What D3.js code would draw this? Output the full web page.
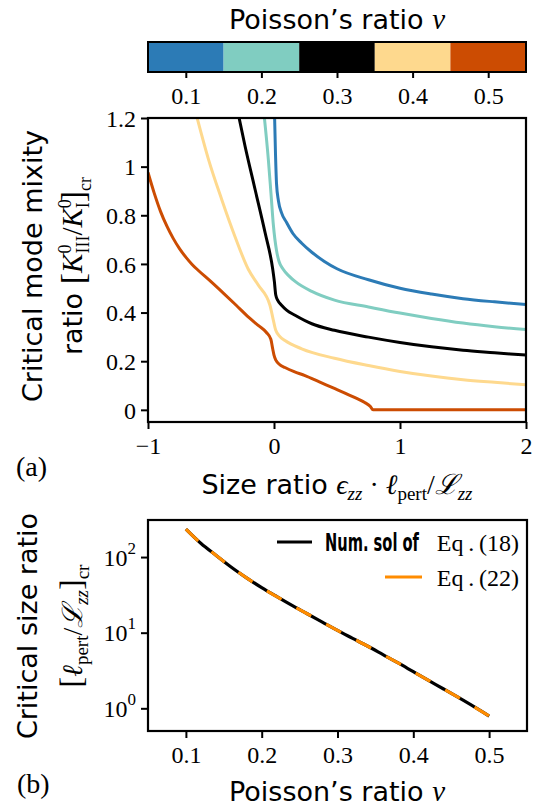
<!DOCTYPE html>
<html><head><meta charset="utf-8">
<script src="https://cdn.jsdelivr.net/npm/d3@7"></script>
<style>
body{margin:0;background:#fff;}
svg{display:block;}
</style></head>
<body>
<svg id="chart" width="545" height="811"></svg>
<script>
// ---------- data ----------
const nuValues = [0.1, 0.2, 0.3, 0.4, 0.5];
const nuColors = ["#2c7bb6", "#80cdc1", "#000000", "#fed98e", "#cc4c02"];
const colorbarTicks = ["0.1", "0.2", "0.3", "0.4", "0.5"];

const curveX_nu01 = [0.004, 0.012, 0.02, 0.035, 0.06, 0.1, 0.15, 0.22, 0.3, 0.4, 0.5, 0.75, 1.0, 1.25, 1.5, 1.75, 2.0];
const curveY_nu01 = [1.22, 1.05, 0.93, 0.86, 0.81, 0.77, 0.725, 0.685, 0.648, 0.61, 0.58, 0.535, 0.5, 0.476, 0.457, 0.444, 0.433];

const curveX_nu02 = [-0.08, -0.045, -0.024, -0.005, 0.02, 0.04, 0.07, 0.12, 0.17, 0.3, 0.48, 0.75, 1.0, 1.25, 1.5, 1.75, 2.0];
const curveY_nu02 = [1.22, 1.03, 0.89, 0.76, 0.655, 0.61, 0.58, 0.55, 0.527, 0.487, 0.451, 0.423, 0.398, 0.376, 0.357, 0.342, 0.33];

const curveX_nu03 = [-0.285, -0.23, -0.15, -0.07, -0.01, 0.003, 0.014, 0.03, 0.06, 0.1, 0.167, 0.3, 0.48, 0.75, 1.0, 1.25, 1.5, 1.75, 2.0];
const curveY_nu03 = [1.22, 1.085, 0.906, 0.727, 0.578, 0.527, 0.472, 0.45, 0.43, 0.41, 0.389, 0.354, 0.327, 0.299, 0.277, 0.259, 0.245, 0.235, 0.225];

const curveX_nu04 = [-0.62, -0.52, -0.415, -0.31, -0.204, -0.125, -0.032, -0.005, 0.014, 0.05, 0.087, 0.22, 0.48, 0.75, 1.0, 1.25, 1.5, 1.75, 2.0];
const curveY_nu04 = [1.22, 1.03, 0.865, 0.713, 0.578, 0.513, 0.43, 0.368, 0.327, 0.3, 0.285, 0.251, 0.212, 0.182, 0.158, 0.139, 0.124, 0.113, 0.103];

const curveX_nu05 = [-1.0, -0.95, -0.9, -0.85, -0.8, -0.75, -0.7, -0.65, -0.6, -0.5, -0.4, -0.3, -0.2, -0.12, -0.06, -0.025, -0.01, 0.0, 0.016, 0.045, 0.087, 0.16, 0.246, 0.36, 0.484, 0.643, 0.72, 0.765, 0.786, 1.0, 1.5, 2.0];
const curveY_nu05 = [0.976, 0.89, 0.815, 0.755, 0.705, 0.663, 0.628, 0.598, 0.573, 0.527, 0.479, 0.43, 0.38, 0.345, 0.318, 0.29, 0.25, 0.225, 0.203, 0.186, 0.174, 0.157, 0.141, 0.115, 0.087, 0.05, 0.03, 0.014, 0.0, 0.0, 0.0, 0.0];

const topXTicks = [-1, 0, 1, 2];
const topXTickLabels = ["\u22121", "0", "1", "2"];
const topYTicks = [0, 0.2, 0.4, 0.6, 0.8, 1.0, 1.2];
const topYTickLabels = ["0", "0.2", "0.4", "0.6", "0.8", "1", "1.2"];

const sizeNu = [0.10, 0.12, 0.14, 0.16, 0.18, 0.20, 0.22, 0.24, 0.26, 0.28, 0.30, 0.32, 0.34, 0.36, 0.38, 0.40, 0.42, 0.44, 0.46, 0.48, 0.50];
const sizeRatio = [234, 151, 105, 73.3, 53.1, 39.4, 29.9, 22.9, 17.8, 13.8, 10.7, 8.41, 6.61, 5.13, 3.98, 3.05, 2.34, 1.80, 1.38, 1.05, 0.79];
const bottomXTicks = [0.1, 0.2, 0.3, 0.4, 0.5];
const bottomXTickLabels = ["0.1", "0.2", "0.3", "0.4", "0.5"];
const bottomYTicks = [1, 10, 100];
const bottomYTickExp = ["0", "1", "2"];

// ---------- setup ----------
const svg = d3.select("#chart");
const SANS = "'DejaVu Sans', sans-serif";
const SERIF = "'Liberation Serif', serif";
const TICKFS = 24;

function styleAxis(g) {
  g.select(".domain").remove();
  g.selectAll(".tick line").attr("stroke", "#000").attr("stroke-width", 2);
  g.selectAll(".tick text").attr("font-family", SERIF).attr("font-size", TICKFS).attr("fill", "#000");
}

// ---------- colorbar ----------
const cbX = d3.scaleLinear().domain([0.05, 0.55]).range([148, 526]);
const cbTop = 42, cbBot = 72;
svg.append("text").attr("x", 337).attr("y", 29).attr("text-anchor", "middle")
  .attr("font-family", SANS).attr("font-size", 27)
  .call(t => { t.append("tspan").text("Poisson\u2019s ratio "); t.append("tspan").attr("font-family", SERIF).attr("font-style", "italic").attr("font-size", 29).text("\u03bd"); });
svg.append("g").selectAll("rect").data(nuValues).join("rect")
  .attr("x", d => cbX(d - 0.05)).attr("width", d => cbX(d + 0.05) - cbX(d - 0.05))
  .attr("y", cbTop).attr("height", cbBot - cbTop)
  .attr("fill", (d, i) => nuColors[i]);
svg.append("rect").attr("x", 148).attr("y", cbTop).attr("width", 378).attr("height", cbBot - cbTop)
  .attr("fill", "none").attr("stroke", "#000").attr("stroke-width", 2);
const cbAxis = d3.axisBottom(cbX).tickValues(nuValues).tickFormat((d, i) => colorbarTicks[i]).tickSize(6).tickPadding(9);
const cbG = svg.append("g").attr("transform", `translate(0,${cbBot})`).call(cbAxis);
styleAxis(cbG);

// ---------- top plot ----------
const xA = d3.scaleLinear().domain([-1, 2]).range([148, 526]);
const yA = d3.scaleLinear().domain([-0.05, 1.2]).range([422, 118]);

svg.append("defs").append("clipPath").attr("id", "clipA")
  .append("rect").attr("x", 148).attr("y", 118).attr("width", 378).attr("height", 304);

const topCurves = [
  [curveX_nu01, curveY_nu01], [curveX_nu02, curveY_nu02], [curveX_nu03, curveY_nu03],
  [curveX_nu04, curveY_nu04], [curveX_nu05, curveY_nu05]
];
const lineA = d3.line().x(d => xA(d[0])).y(d => yA(d[1])).curve(d3.curveMonotoneX);
const gA = svg.append("g").attr("clip-path", "url(#clipA)");
topCurves.forEach((c, i) => {
  const pts = c[0].map((x, j) => [x, c[1][j]]);
  gA.append("path").attr("d", lineA(pts)).attr("fill", "none")
    .attr("stroke", nuColors[i]).attr("stroke-width", 3).attr("stroke-linejoin", "round");
});

const axAx = svg.append("g").attr("transform", "translate(0,422)")
  .call(d3.axisBottom(xA).tickValues(topXTicks).tickFormat((d, i) => topXTickLabels[i]).tickSize(7).tickPadding(8));
styleAxis(axAx);
const axAy = svg.append("g").attr("transform", "translate(148,0)")
  .call(d3.axisLeft(yA).tickValues(topYTicks).tickFormat((d, i) => topYTickLabels[i]).tickSize(7).tickPadding(5));
styleAxis(axAy);
axAy.selectAll(".tick text").attr("dy", "0.34em");
svg.append("rect").attr("x", 148).attr("y", 118).attr("width", 378).attr("height", 304)
  .attr("fill", "none").attr("stroke", "#000").attr("stroke-width", 2.2);

// top y label
const ylA = svg.append("g").attr("transform", "translate(0,266) rotate(-90)");
ylA.append("text").attr("x", 0).attr("y", 42).attr("text-anchor", "middle")
  .attr("font-family", SANS).attr("font-size", 27).text("Critical mode mixity");
const ylA2 = ylA.append("text").attr("x", 0).attr("y", 82).attr("text-anchor", "middle")
  .attr("font-family", SANS).attr("font-size", 27);
ylA2.append("tspan").text("ratio ");
ylA2.append("tspan").attr("font-family", SERIF).attr("font-size", 34).attr("dy", 2).text("[");
ylA2.append("tspan").attr("font-family", SERIF).attr("font-style", "italic").attr("font-size", 29).attr("dy", -2).text("K");
ylA2.append("tspan").attr("font-family", SERIF).attr("font-size", 18).attr("dy", -11).text("0");
ylA2.append("tspan").attr("font-family", SERIF).attr("font-size", 18).attr("dx", -9).attr("dy", 18).text("III");
ylA2.append("tspan").attr("font-family", SERIF).attr("font-size", 29).attr("dy", -7).text("/");
ylA2.append("tspan").attr("font-family", SERIF).attr("font-style", "italic").attr("font-size", 29).text("K");
ylA2.append("tspan").attr("font-family", SERIF).attr("font-size", 18).attr("dy", -11).text("0");
ylA2.append("tspan").attr("font-family", SERIF).attr("font-size", 18).attr("dx", -9).attr("dy", 18).text("I");
ylA2.append("tspan").attr("font-family", SERIF).attr("font-size", 34).attr("dy", -5).text("]");
ylA2.append("tspan").attr("font-family", SERIF).attr("font-size", 18).attr("dy", 7).text("cr");

// top x label
const xlA = svg.append("text").attr("x", 337).attr("y", 494).attr("text-anchor", "middle")
  .attr("font-family", SANS).attr("font-size", 27);
xlA.append("tspan").text("Size ratio ");
xlA.append("tspan").attr("font-family", SERIF).attr("font-style", "italic").attr("font-size", 28).text("\u03f5");
xlA.append("tspan").attr("font-family", SERIF).attr("font-style", "italic").attr("font-size", 19).attr("dy", 6).text("zz");
xlA.append("tspan").attr("font-family", SERIF).attr("font-size", 28).attr("dy", -6).text(" \u00b7 ");
xlA.append("tspan").attr("font-family", SERIF).attr("font-style", "italic").attr("font-size", 28).text("\u2113");
xlA.append("tspan").attr("font-family", SERIF).attr("font-size", 19).attr("dy", 6).text("pert");
xlA.append("tspan").attr("font-family", SERIF).attr("font-size", 28).attr("dy", -6).text("/");
xlA.append("tspan").attr("font-family", SERIF).attr("font-style", "italic").attr("font-size", 28).text("\u2112");
xlA.append("tspan").attr("font-family", SERIF).attr("font-style", "italic").attr("font-size", 19).attr("dy", 6).text("zz");

svg.append("text").attr("x", 16).attr("y", 476).attr("font-family", SERIF).attr("font-size", 28).text("(a)");

// ---------- bottom plot ----------
const xB = d3.scaleLinear().domain([0.05, 0.55]).range([148, 527]);
const yB = d3.scaleLog().domain([Math.pow(10, -0.3), Math.pow(10, 2.49)]).range([731, 520]);
const lineB = d3.line().x(d => xB(d[0])).y(d => yB(d[1])).curve(d3.curveMonotoneX);
const ptsB = sizeNu.map((x, j) => [x, sizeRatio[j]]);
svg.append("path").attr("d", lineB(ptsB)).attr("fill", "none").attr("stroke", "#000").attr("stroke-width", 3.2);
svg.append("path").attr("d", lineB(ptsB)).attr("fill", "none").attr("stroke", "#ff8c00").attr("stroke-width", 3.2)
  .attr("stroke-dasharray", "17,17");

const axBx = svg.append("g").attr("transform", "translate(0,731)")
  .call(d3.axisBottom(xB).tickValues(bottomXTicks).tickFormat((d, i) => bottomXTickLabels[i]).tickSize(7).tickPadding(8));
styleAxis(axBx);
const axBy = svg.append("g").attr("transform", "translate(148,0)")
  .call(d3.axisLeft(yB).tickValues(bottomYTicks).tickFormat(() => "").tickSize(7).tickPadding(5));
styleAxis(axBy);
axBy.selectAll(".tick text").each(function (d, i) {
  const t = d3.select(this).attr("dy", "0.34em");
  t.append("tspan").text("10");
  t.append("tspan").attr("font-size", 17).attr("dy", "-0.7em").text(bottomYTickExp[i]);
});
svg.append("rect").attr("x", 148).attr("y", 520).attr("width", 379).attr("height", 211)
  .attr("fill", "none").attr("stroke", "#000").attr("stroke-width", 2.2);

// legend
svg.append("line").attr("x1", 277).attr("x2", 312).attr("y1", 542).attr("y2", 542).attr("stroke", "#000").attr("stroke-width", 3.2);
const numG = svg.append("g");
const numT = numG.append("text").attr("x", 0).attr("y", 0).attr("font-family", SANS).attr("font-weight", "bold")
  .attr("font-size", 25).text("Num. sol of");
const numW = numT.node().getComputedTextLength();
numG.attr("transform", `translate(325,551) scale(${94 / numW},1)`);
svg.append("text").attr("x", 519).attr("y", 551).attr("text-anchor", "end").attr("font-family", SERIF).attr("font-size", 24).text("Eq\u2009.\u2009(18)");
svg.append("line").attr("x1", 385).attr("x2", 422).attr("y1", 577).attr("y2", 577).attr("stroke", "#ff8c00").attr("stroke-width", 3.2);
svg.append("text").attr("x", 519).attr("y", 586).attr("text-anchor", "end").attr("font-family", SERIF).attr("font-size", 24).text("Eq\u2009.\u2009(22)");

// bottom y label
const ylB = svg.append("g").attr("transform", "translate(0,626) rotate(-90)");
ylB.append("text").attr("x", 0).attr("y", 37).attr("text-anchor", "middle")
  .attr("font-family", SANS).attr("font-size", 27).text("Critical size ratio");
const ylB2 = ylB.append("text").attr("x", 0).attr("y", 82).attr("text-anchor", "middle").attr("font-family", SERIF).attr("font-size", 28);
ylB2.append("tspan").attr("font-size", 32).text("[");
ylB2.append("tspan").attr("font-style", "italic").text("\u2113");
ylB2.append("tspan").attr("font-size", 19).attr("dy", 6).text("pert");
ylB2.append("tspan").attr("dy", -6).text("/");
ylB2.append("tspan").attr("font-style", "italic").text("\u2112");
ylB2.append("tspan").attr("font-style", "italic").attr("font-size", 19).attr("dy", 6).text("zz");
ylB2.append("tspan").attr("font-size", 32).attr("dy", -6).text("]");
ylB2.append("tspan").attr("font-size", 19).attr("dy", 7).text("cr");

// bottom x label
const xlB = svg.append("text").attr("x", 337).attr("y", 801).attr("text-anchor", "middle")
  .attr("font-family", SANS).attr("font-size", 27);
xlB.append("tspan").text("Poisson\u2019s ratio ");
xlB.append("tspan").attr("font-family", SERIF).attr("font-style", "italic").attr("font-size", 29).text("\u03bd");

svg.append("text").attr("x", 17).attr("y", 793).attr("font-family", SERIF).attr("font-size", 28).text("(b)");
</script>
</body></html>
